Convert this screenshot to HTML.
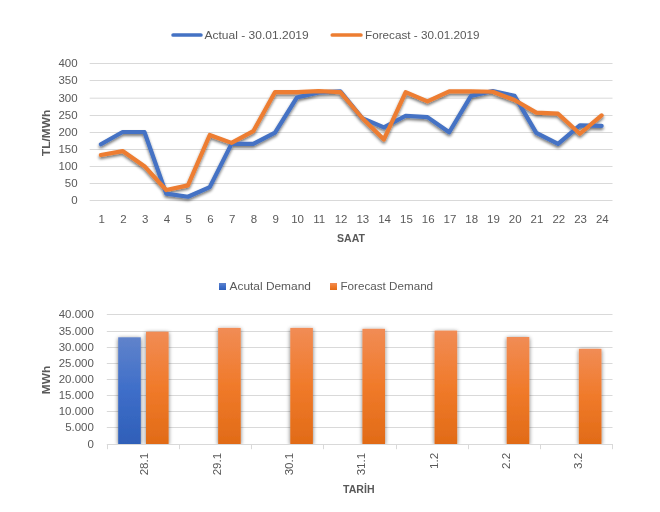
<!DOCTYPE html>
<html lang="tr"><head><meta charset="utf-8"><title>Charts</title>
<style>html,body{margin:0;padding:0;background:#fff;}svg{display:block;}text{font-family:"Liberation Sans", sans-serif;fill:#595959;opacity:0.999;}</style>
</head><body>
<svg width="660" height="512" viewBox="0 0 660 512">
<defs>
<filter id="ls" x="-5%" y="-20%" width="110%" height="140%"><feGaussianBlur in="SourceAlpha" stdDeviation="1.6"/><feOffset dx="0" dy="2"/><feComponentTransfer><feFuncA type="linear" slope="0.55"/></feComponentTransfer><feMerge><feMergeNode/><feMergeNode in="SourceGraphic"/></feMerge></filter>
<filter id="bs" x="-40%" y="-10%" width="180%" height="120%"><feGaussianBlur in="SourceAlpha" stdDeviation="2"/><feOffset dx="0" dy="0.5"/><feComponentTransfer><feFuncA type="linear" slope="0.55"/></feComponentTransfer><feMerge><feMergeNode/><feMergeNode in="SourceGraphic"/></feMerge></filter>
<linearGradient id="gb" x1="0" y1="0" x2="0" y2="1"><stop offset="0" stop-color="#6083cb"/><stop offset="0.5" stop-color="#3e6ec9"/><stop offset="1" stop-color="#2f5fb8"/></linearGradient>
<linearGradient id="go" x1="0" y1="0" x2="0" y2="1"><stop offset="0" stop-color="#f18c55"/><stop offset="0.5" stop-color="#f07a2a"/><stop offset="1" stop-color="#e16b17"/></linearGradient>
<clipPath id="bc"><rect x="100" y="300" width="520" height="144"/></clipPath>
</defs>
<rect width="660" height="512" fill="#fff"/>
<line x1="89.7" y1="200.5" x2="612.5" y2="200.5" stroke="#d9d9d9" stroke-width="1"/>
<line x1="89.7" y1="183.5" x2="612.5" y2="183.5" stroke="#d9d9d9" stroke-width="1"/>
<line x1="89.7" y1="166.5" x2="612.5" y2="166.5" stroke="#d9d9d9" stroke-width="1"/>
<line x1="89.7" y1="149.5" x2="612.5" y2="149.5" stroke="#d9d9d9" stroke-width="1"/>
<line x1="89.7" y1="132.5" x2="612.5" y2="132.5" stroke="#d9d9d9" stroke-width="1"/>
<line x1="89.7" y1="115.5" x2="612.5" y2="115.5" stroke="#d9d9d9" stroke-width="1"/>
<line x1="89.7" y1="98.2" x2="612.5" y2="98.2" stroke="#d9d9d9" stroke-width="1"/>
<line x1="89.7" y1="80.5" x2="612.5" y2="80.5" stroke="#d9d9d9" stroke-width="1"/>
<line x1="89.7" y1="63.5" x2="612.5" y2="63.5" stroke="#d9d9d9" stroke-width="1"/>
<text transform="translate(77.60,204.40) scale(1.045,1)" font-size="11" text-anchor="end">0</text>
<text transform="translate(77.60,187.40) scale(1.045,1)" font-size="11" text-anchor="end">50</text>
<text transform="translate(77.60,170.40) scale(1.045,1)" font-size="11" text-anchor="end">100</text>
<text transform="translate(77.60,153.40) scale(1.045,1)" font-size="11" text-anchor="end">150</text>
<text transform="translate(77.60,136.40) scale(1.045,1)" font-size="11" text-anchor="end">200</text>
<text transform="translate(77.60,119.40) scale(1.045,1)" font-size="11" text-anchor="end">250</text>
<text transform="translate(77.60,102.10) scale(1.045,1)" font-size="11" text-anchor="end">300</text>
<text transform="translate(77.60,84.40) scale(1.045,1)" font-size="11" text-anchor="end">350</text>
<text transform="translate(77.60,67.40) scale(1.045,1)" font-size="11" text-anchor="end">400</text>
<text transform="translate(101.59,222.50) scale(1.045,1)" font-size="11" text-anchor="middle">1</text>
<text transform="translate(123.36,222.50) scale(1.045,1)" font-size="11" text-anchor="middle">2</text>
<text transform="translate(145.13,222.50) scale(1.045,1)" font-size="11" text-anchor="middle">3</text>
<text transform="translate(166.90,222.50) scale(1.045,1)" font-size="11" text-anchor="middle">4</text>
<text transform="translate(188.67,222.50) scale(1.045,1)" font-size="11" text-anchor="middle">5</text>
<text transform="translate(210.44,222.50) scale(1.045,1)" font-size="11" text-anchor="middle">6</text>
<text transform="translate(232.21,222.50) scale(1.045,1)" font-size="11" text-anchor="middle">7</text>
<text transform="translate(253.98,222.50) scale(1.045,1)" font-size="11" text-anchor="middle">8</text>
<text transform="translate(275.75,222.50) scale(1.045,1)" font-size="11" text-anchor="middle">9</text>
<text transform="translate(297.52,222.50) scale(1.045,1)" font-size="11" text-anchor="middle">10</text>
<text transform="translate(319.29,222.50) scale(1.045,1)" font-size="11" text-anchor="middle">11</text>
<text transform="translate(341.06,222.50) scale(1.045,1)" font-size="11" text-anchor="middle">12</text>
<text transform="translate(362.84,222.50) scale(1.045,1)" font-size="11" text-anchor="middle">13</text>
<text transform="translate(384.61,222.50) scale(1.045,1)" font-size="11" text-anchor="middle">14</text>
<text transform="translate(406.38,222.50) scale(1.045,1)" font-size="11" text-anchor="middle">15</text>
<text transform="translate(428.15,222.50) scale(1.045,1)" font-size="11" text-anchor="middle">16</text>
<text transform="translate(449.92,222.50) scale(1.045,1)" font-size="11" text-anchor="middle">17</text>
<text transform="translate(471.69,222.50) scale(1.045,1)" font-size="11" text-anchor="middle">18</text>
<text transform="translate(493.46,222.50) scale(1.045,1)" font-size="11" text-anchor="middle">19</text>
<text transform="translate(515.23,222.50) scale(1.045,1)" font-size="11" text-anchor="middle">20</text>
<text transform="translate(537.00,222.50) scale(1.045,1)" font-size="11" text-anchor="middle">21</text>
<text transform="translate(558.77,222.50) scale(1.045,1)" font-size="11" text-anchor="middle">22</text>
<text transform="translate(580.54,222.50) scale(1.045,1)" font-size="11" text-anchor="middle">23</text>
<text transform="translate(602.31,222.50) scale(1.045,1)" font-size="11" text-anchor="middle">24</text>
<g filter="url(#ls)" fill="none" stroke-width="4.2" stroke-linecap="round" stroke-linejoin="round">
<polyline points="100.89,144.23 122.66,131.98 144.43,131.98 166.20,193.64 187.97,196.73 209.74,187.12 231.51,143.89 253.28,143.89 275.05,132.56 296.82,97.56 318.59,92.42 340.36,91.39 362.14,118.15 383.91,127.42 405.68,115.75 427.45,117.12 449.22,132.22 470.99,95.85 492.76,91.04 514.53,95.85 536.30,132.91 558.07,143.89 579.84,125.36 601.61,125.87" stroke="#4472c4"/>
<polyline points="100.89,155.04 122.66,151.09 144.43,166.19 166.20,190.03 187.97,185.40 209.74,134.96 231.51,142.86 253.28,131.19 275.05,92.07 296.82,92.07 318.59,91.04 340.36,92.07 362.14,117.98 383.91,139.42 405.68,92.07 427.45,101.34 449.22,91.39 470.99,91.39 492.76,91.73 514.53,99.97 536.30,112.66 558.07,113.69 579.84,133.76 601.61,115.41" stroke="#ed7d31"/>
</g>
<line x1="173.1" y1="35" x2="200.9" y2="35" stroke="#4472c4" stroke-width="3.7" stroke-linecap="round"/>
<text x="204.5" y="39.2" font-size="11" textLength="104.2" lengthAdjust="spacingAndGlyphs">Actual - 30.01.2019</text>
<line x1="332.3" y1="35" x2="360.9" y2="35" stroke="#ed7d31" stroke-width="3.7" stroke-linecap="round"/>
<text x="365" y="39.2" font-size="11" textLength="114.5" lengthAdjust="spacingAndGlyphs">Forecast - 30.01.2019</text>
<text x="351" y="241.8" font-size="11" font-weight="bold" text-anchor="middle" textLength="28" lengthAdjust="spacingAndGlyphs">SAAT</text>
<text transform="translate(50.2,133) rotate(-90)" font-size="11" font-weight="bold" text-anchor="middle" textLength="46.3" lengthAdjust="spacingAndGlyphs">TL/MWh</text>
<line x1="106.8" y1="444.5" x2="612.5" y2="444.5" stroke="#d9d9d9" stroke-width="1"/>
<line x1="106.8" y1="427.5" x2="612.5" y2="427.5" stroke="#d9d9d9" stroke-width="1"/>
<line x1="106.8" y1="411.5" x2="612.5" y2="411.5" stroke="#d9d9d9" stroke-width="1"/>
<line x1="106.8" y1="395.5" x2="612.5" y2="395.5" stroke="#d9d9d9" stroke-width="1"/>
<line x1="106.8" y1="379.5" x2="612.5" y2="379.5" stroke="#d9d9d9" stroke-width="1"/>
<line x1="106.8" y1="363.5" x2="612.5" y2="363.5" stroke="#d9d9d9" stroke-width="1"/>
<line x1="106.8" y1="347.5" x2="612.5" y2="347.5" stroke="#d9d9d9" stroke-width="1"/>
<line x1="106.8" y1="331.5" x2="612.5" y2="331.5" stroke="#d9d9d9" stroke-width="1"/>
<line x1="106.8" y1="314.5" x2="612.5" y2="314.5" stroke="#d9d9d9" stroke-width="1"/>
<line x1="107.5" y1="444" x2="107.5" y2="449.2" stroke="#d9d9d9" stroke-width="1"/>
<line x1="179.5" y1="444" x2="179.5" y2="449.2" stroke="#d9d9d9" stroke-width="1"/>
<line x1="251.5" y1="444" x2="251.5" y2="449.2" stroke="#d9d9d9" stroke-width="1"/>
<line x1="323.5" y1="444" x2="323.5" y2="449.2" stroke="#d9d9d9" stroke-width="1"/>
<line x1="396.5" y1="444" x2="396.5" y2="449.2" stroke="#d9d9d9" stroke-width="1"/>
<line x1="468.5" y1="444" x2="468.5" y2="449.2" stroke="#d9d9d9" stroke-width="1"/>
<line x1="540.5" y1="444" x2="540.5" y2="449.2" stroke="#d9d9d9" stroke-width="1"/>
<line x1="612.5" y1="444" x2="612.5" y2="449.2" stroke="#d9d9d9" stroke-width="1"/>
<text transform="translate(93.90,448.20) scale(1.045,1)" font-size="11" text-anchor="end">0</text>
<text transform="translate(93.90,431.20) scale(1.045,1)" font-size="11" text-anchor="end">5.000</text>
<text transform="translate(93.90,415.20) scale(1.045,1)" font-size="11" text-anchor="end">10.000</text>
<text transform="translate(93.90,399.20) scale(1.045,1)" font-size="11" text-anchor="end">15.000</text>
<text transform="translate(93.90,383.20) scale(1.045,1)" font-size="11" text-anchor="end">20.000</text>
<text transform="translate(93.90,367.20) scale(1.045,1)" font-size="11" text-anchor="end">25.000</text>
<text transform="translate(93.90,351.20) scale(1.045,1)" font-size="11" text-anchor="end">30.000</text>
<text transform="translate(93.90,335.20) scale(1.045,1)" font-size="11" text-anchor="end">35.000</text>
<text transform="translate(93.90,318.20) scale(1.045,1)" font-size="11" text-anchor="end">40.000</text>
<g clip-path="url(#bc)"><g filter="url(#bs)">
<rect x="118.20" y="337.30" width="22.60" height="106.70" fill="url(#gb)"/>
<rect x="146.00" y="331.70" width="22.60" height="112.30" fill="url(#go)"/>
<rect x="218.14" y="327.90" width="22.60" height="116.10" fill="url(#go)"/>
<rect x="290.29" y="327.90" width="22.60" height="116.10" fill="url(#go)"/>
<rect x="362.43" y="328.80" width="22.60" height="115.20" fill="url(#go)"/>
<rect x="434.57" y="330.60" width="22.60" height="113.40" fill="url(#go)"/>
<rect x="506.71" y="337.00" width="22.60" height="107.00" fill="url(#go)"/>
<rect x="578.86" y="348.80" width="22.60" height="95.20" fill="url(#go)"/>
</g></g>
<text transform="translate(148.30,452.90) rotate(-90) scale(1.045,1)" font-size="11" text-anchor="end">28.1</text>
<text transform="translate(220.60,452.90) rotate(-90) scale(1.045,1)" font-size="11" text-anchor="end">29.1</text>
<text transform="translate(292.90,452.90) rotate(-90) scale(1.045,1)" font-size="11" text-anchor="end">30.1</text>
<text transform="translate(365.20,452.90) rotate(-90) scale(1.045,1)" font-size="11" text-anchor="end">31.1</text>
<text transform="translate(437.50,452.90) rotate(-90) scale(1.045,1)" font-size="11" text-anchor="end">1.2</text>
<text transform="translate(509.80,452.90) rotate(-90) scale(1.045,1)" font-size="11" text-anchor="end">2.2</text>
<text transform="translate(582.10,452.90) rotate(-90) scale(1.045,1)" font-size="11" text-anchor="end">3.2</text>
<rect x="219" y="283" width="7" height="7" fill="url(#gb)"/>
<text x="229.5" y="289.9" font-size="11" textLength="81.4" lengthAdjust="spacingAndGlyphs">Acutal Demand</text>
<rect x="330" y="283" width="7" height="7" fill="url(#go)"/>
<text x="340.5" y="289.9" font-size="11" textLength="92.6" lengthAdjust="spacingAndGlyphs">Forecast Demand</text>
<text x="358.8" y="493" font-size="11" font-weight="bold" text-anchor="middle" textLength="31.5" lengthAdjust="spacingAndGlyphs">TARİH</text>
<text transform="translate(50.4,380) rotate(-90)" font-size="11" font-weight="bold" text-anchor="middle" textLength="28.3" lengthAdjust="spacingAndGlyphs">MWh</text>
</svg>
</body></html>
